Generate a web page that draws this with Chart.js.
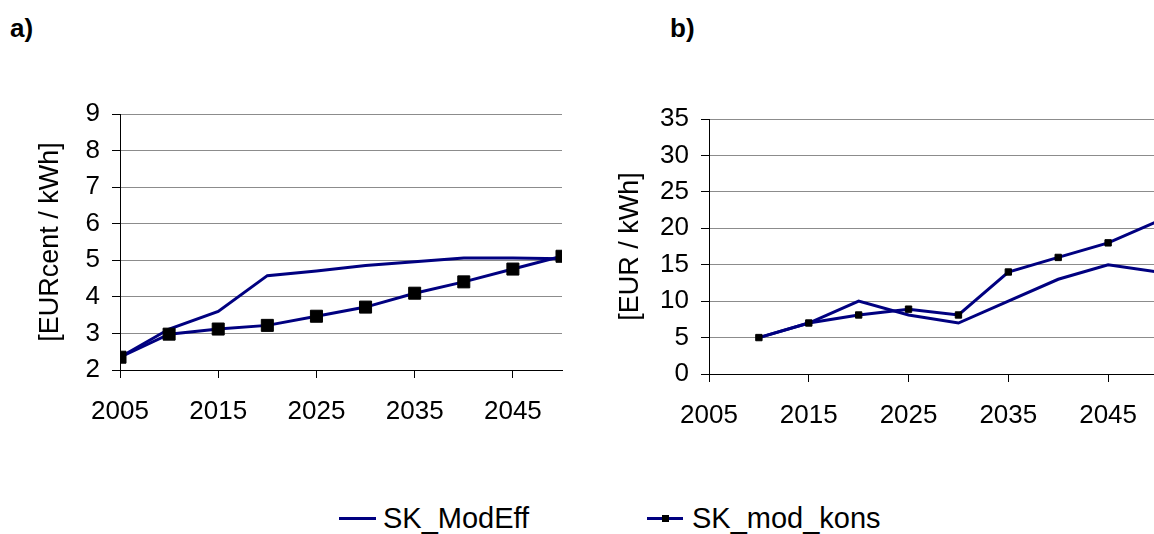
<!DOCTYPE html>
<html>
<head>
<meta charset="utf-8">
<script src="https://cdn.jsdelivr.net/npm/chart.js@4.4.1/dist/chart.umd.min.js"></script>
<style>
  html, body { margin: 0; padding: 0; background: #fff; }
  body { width: 1154px; height: 534px; position: relative; overflow: hidden; font-family: "Liberation Sans", Arial, sans-serif; }
  canvas { position: absolute; top: 0; }
  #chartA { left: 0; }
  #chartB { left: 580px; }
  .panel { position: absolute; top: 13px; font-size: 26px; font-weight: bold; }
  .legend { position: absolute; top: 501px; font-size: 29px; line-height: 34px; white-space: nowrap; }
  .sample { position: absolute; top: 16px; height: 3px; background: #000080; }
  .sample span { position: absolute; left: 15px; top: -2px; width: 7px; height: 7px; background: #000; }
</style>
</head>
<body>
<div class="panel" style="left:10px">a)</div>
<div class="panel" style="left:670px">b)</div>
<canvas id="chartA" width="580" height="470"></canvas>
<canvas id="chartB" width="600" height="470"></canvas>

<div class="legend" style="left:339px"><div class="sample" style="left:0;width:37px"></div><span style="position:absolute;left:44px">SK_ModEff</span></div>
<div class="legend" style="left:647px"><div class="sample" style="left:0;width:36px"><span></span></div><span style="position:absolute;left:45px">SK_mod_kons</span></div>

<script>
// daten
const jahre = [2005, 2010, 2015, 2020, 2025, 2030, 2035, 2040, 2045, 2050];
const modEffA = [2.35, 3.12, 3.6, 4.58, 4.71, 4.86, 4.96, 5.06, 5.06, 5.04];
const konsA = [2.35, 2.98, 3.12, 3.22, 3.47, 3.72, 4.1, 4.41, 4.76, 5.11];

const jahreB = [2010, 2015, 2020, 2025, 2030, 2035, 2040, 2045, 2050];
const modEffB = [5, 7, 10, 8.1, 7, 10, 13, 15, 14];
const konsB = [5, 7, 8.1, 8.9, 8.1, 14, 16, 18, 21];

const xTicks = [2005, 2015, 2025, 2035, 2045];

Chart.defaults.font.family = "'Liberation Sans', Arial, sans-serif";
Chart.defaults.color = "#000";

function punkte(xs, ys) {
  return xs.map((x, i) => ({ x: x, y: ys[i] }));
}

function makeChart(id, opts) {
  return new Chart(document.getElementById(id), {
    type: "line",

    data: {
      datasets: [
        {
          label: "SK_ModEff",
          data: punkte(opts.xs, opts.modEff),
          borderColor: "#000080",
          borderWidth: 3,
          pointRadius: 0,
          tension: 0,
          order: 1,
        },
        {
          label: "SK_mod_kons",
          data: punkte(opts.xs, opts.kons),
          borderColor: "#000080",
          borderWidth: 3,
          pointStyle: "rect",
          pointRadius: opts.marker,
          pointBackgroundColor: "#000",
          pointBorderColor: "#000",
          pointBorderWidth: 1,
          tension: 0,
          order: 0,
        },
      ],
    },

    options: {
      responsive: false,
      animation: false,
      devicePixelRatio: 1,
      layout: {
        padding: opts.padding,
      },
      plugins: {
        legend: { display: false },
        tooltip: { enabled: false },
      },
      scales: {
        x: {
          type: "linear",
          min: 2005,
          max: 2050,
          afterBuildTicks: (axis) => {
            axis.ticks = xTicks.map((v) => ({ value: v }));
          },
          afterFit: (axis) => {
            axis.height = 60;
          },
          ticks: {
            font: { size: 26 },
            padding: 18,
            maxRotation: 0,
            callback: (v) => String(v),
          },
          grid: {
            drawOnChartArea: false,
            tickLength: 8,
            tickColor: "#000",
          },
          border: { color: "#000", width: 1 },
        },
        y: {
          min: opts.yMin,
          max: opts.yMax,
          afterFit: (axis) => {
            axis.width = opts.yWidth;
          },
          ticks: {
            stepSize: opts.yStep,
            font: { size: 26 },
            padding: 12,
          },
          grid: {
            color: "#8c8c8c",
            tickLength: 8,
            tickColor: "#000",
          },
          border: { color: "#000", width: 1 },
          title: {
            display: true,
            text: opts.yTitle,
            font: { size: 27 },
            padding: { top: 4, bottom: 4 },
          },
        },
      },
    },
  });
}

makeChart("chartA", {
  xs: jahre,
  modEff: modEffA,
  kons: konsA,
  marker: 8.5,
  yMin: 2,
  yMax: 9,
  yStep: 1,
  yTitle: "[EURcent / kWh]",
  yWidth: 90,
  padding: { left: 30, top: 114, right: 18, bottom: 40 },
});

makeChart("chartB", {
  xs: jahreB,
  modEff: modEffB,
  kons: konsB,
  marker: 4.5,
  yMin: 0,
  yMax: 35,
  yStep: 5,
  yTitle: "[EUR / kWh]",
  yWidth: 99,
  padding: { left: 30, top: 119, right: 22, bottom: 36 },
});
</script>
</body>
</html>
